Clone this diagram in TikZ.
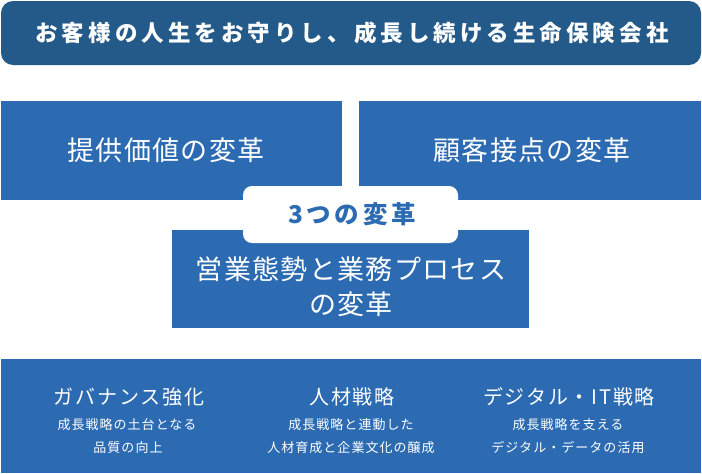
\documentclass[tikz,border=0pt]{standalone}
\usepackage{fontspec}
\setmainfont{Noto Sans CJK JP}
\definecolor{banner}{HTML}{235A89}
\definecolor{boxblue}{HTML}{2C6BB2}
\tikzset{
  panel/.style={rectangle, fill=boxblue, draw=none, inner sep=0pt},
  wtext/.style={text=white, inner sep=0pt, align=center},
  bigtext/.style={wtext, font=\fontsize{27}{35}\selectfont\addfontfeature{LetterSpace=5}},
  coltitle/.style={wtext, font=\fontsize{20}{24}\selectfont\addfontfeature{LetterSpace=9}},
  colsub/.style={wtext, font=\fontsize{13}{16}\selectfont\addfontfeature{LetterSpace=8}},
}
\begin{document}
\begin{tikzpicture}[x=1pt,y=-1pt]
\useasboundingbox (0,0) rectangle (702,474);
% top banner
\node[rectangle, fill=banner, rounded corners=12pt, minimum width=700pt, minimum height=64pt, inner sep=0pt] (top) at (351,33) {};
\node[wtext, font=\fontsize{22.5}{26}\selectfont\bfseries\addfontfeature{LetterSpace=18}] (toptext) at (352,33) {お客様の人生をお守りし、成長し続ける生命保険会社};
% three boxes
\node[panel, minimum width=341pt, minimum height=99pt] (b1) at (171.5,150.5) {};
\node[panel, minimum width=342pt, minimum height=99pt] (b2) at (530,150.5) {};
\node[panel, minimum width=357pt, minimum height=98pt] (b3) at (350.5,279) {};
\node[bigtext] (t1) at (166,150) {提供価値の変革};
\node[bigtext] (t2) at (532,150) {顧客接点の変革};
\node[bigtext] (t3a) at (351,269) {営業態勢と業務プロセス};
\node[bigtext] (t3b) at (351,304) {の変革};
% center label
\node[rectangle, fill=white, rounded corners=9pt, minimum width=215pt, minimum height=57pt, inner sep=0pt] (center) at (350.5,214.5) {};
\node[inner sep=0pt, text=boxblue, font=\fontsize{24.5}{28}\selectfont\bfseries\addfontfeature{LetterSpace=15}] (centertext) at (352,214) {3つの変革};
% bottom panel
\node[panel, minimum width=700pt, minimum height=114pt] (bottom) at (351,416) {};
\node[coltitle] (c1t) at (129,397) {ガバナンス強化};
\node[colsub] (c1a) at (127,425) {成長戦略の土台となる};
\node[colsub] (c1b) at (128,448) {品質の向上};
\node[coltitle] (c2t) at (352,397) {人材戦略};
\node[colsub] (c2a) at (351,425) {成長戦略と連動した};
\node[colsub] (c2b) at (351,448) {人材育成と企業文化の醸成};
\node[coltitle] (c3t) at (569,397) {デジタル・IT戦略};
\node[colsub] (c3a) at (568,425) {成長戦略を支える};
\node[colsub] (c3b) at (568,448) {デジタル・データの活用};
\end{tikzpicture}
\end{document}
